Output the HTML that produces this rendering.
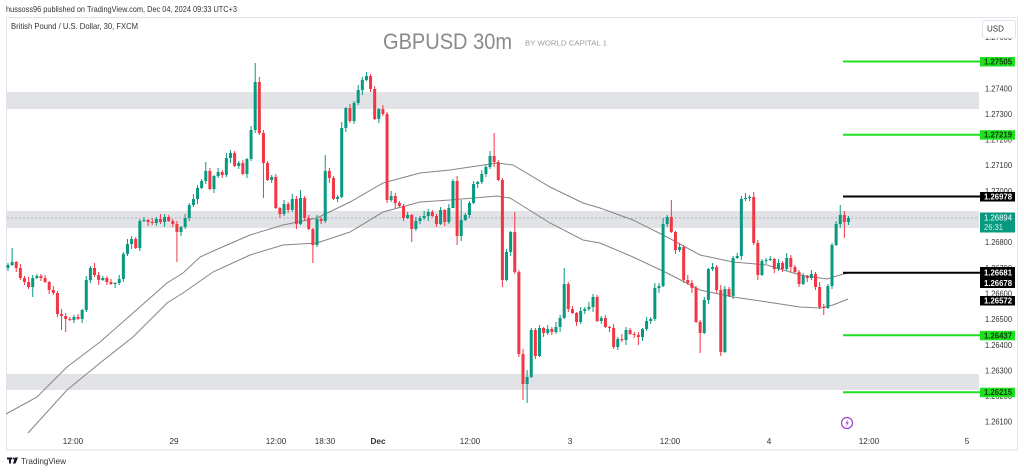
<!DOCTYPE html>
<html>
<head>
<meta charset="utf-8">
<style>
  html,body{margin:0;padding:0;background:#fff;}
  body{width:1024px;height:472px;overflow:hidden;position:relative;font-family:"Liberation Sans",sans-serif;}
  svg{position:absolute;left:0;top:0;}
  text{font-family:"Liberation Sans",sans-serif;}
</style>
</head>
<body>
<svg id="s" width="1024" height="472" viewBox="0 0 1024 472" xmlns="http://www.w3.org/2000/svg">
  <!-- header -->
  <text x="6" y="12" font-size="8.2" fill="#333" textLength="231" lengthAdjust="spacingAndGlyphs">hussoss96 published on TradingView.com, Dec 04, 2024 09:33 UTC+3</text>
  <!-- panel -->
  <rect x="6.5" y="17.5" width="1011" height="432.5" fill="#fff" stroke="#e0e3eb" stroke-width="1"/>
  <text x="11" y="29" font-size="8.2" fill="#333" textLength="127" lengthAdjust="spacingAndGlyphs">British Pound / U.S. Dollar, 30, FXCM</text>

  <!-- zones -->
  <rect x="7" y="92" width="972" height="17" fill="#e2e3e7"/>
  <rect x="7" y="211" width="972" height="17" fill="#e2e3e7"/>
  <rect x="7" y="374" width="972" height="16" fill="#e2e3e7"/>
  <line x1="7" y1="218" x2="979" y2="218" stroke="#a9b3b8" stroke-width="1" stroke-dasharray="2,2"/>

  <!-- title -->
  <text x="383" y="49" font-size="22" fill="#8a8a8a" textLength="129" lengthAdjust="spacingAndGlyphs">GBPUSD 30m</text>
  <text x="525" y="45.5" font-size="7" fill="#9a9a9a" textLength="82" lengthAdjust="spacingAndGlyphs">BY WORLD CAPITAL 1</text>

  <!-- moving averages -->
  <polyline fill="none" stroke="#858585" stroke-width="1" points="6,414 37,397 67,367 100,342 133,313 167,283 183,273 200,257 220,248 250,235 283,225 317,218 350,202 383,183 420,173 450,170 497,163 513,165 550,187 583,203 600,208 633,220 667,237 700,255 733,262 767,265 800,275 827,279 840,275 848,273"/>
  <polyline fill="none" stroke="#858585" stroke-width="1" points="28,433 67,390 100,363 133,337 167,303 183,293 213,272 250,255 283,245 317,243 350,232 383,212 420,202 450,200 497,196 510,198 550,223 583,240 600,243 633,257 667,273 700,290 733,297 767,302 800,307 820,308 833,305 848,299"/>

  <g id="candles"></g>

  <!-- horizontal levels -->
  <g stroke-width="2">
    <line x1="843" y1="61.5" x2="980" y2="61.5" stroke="#1fe01f"/>
    <line x1="843" y1="134.7" x2="980" y2="134.7" stroke="#1fe01f"/>
    <line x1="843" y1="196.5" x2="980" y2="196.5" stroke="#000"/>
    <line x1="843" y1="272.7" x2="980" y2="272.7" stroke="#000"/>
    <line x1="843" y1="335.3" x2="980" y2="335.3" stroke="#1fe01f"/>
    <line x1="843" y1="392.2" x2="980" y2="392.2" stroke="#1fe01f"/>
  </g>

  <!-- price axis ticks -->
  <g font-size="8.2" fill="#333">
    <text x="985" y="40" textLength="27" lengthAdjust="spacingAndGlyphs">1.27600</text>
    <text x="985" y="91.3" textLength="27" lengthAdjust="spacingAndGlyphs">1.27400</text>
    <text x="985" y="117" textLength="27" lengthAdjust="spacingAndGlyphs">1.27300</text>
    <text x="985" y="142.6" textLength="27" lengthAdjust="spacingAndGlyphs">1.27200</text>
    <text x="985" y="168.2" textLength="27" lengthAdjust="spacingAndGlyphs">1.27100</text>
    <text x="985" y="193.9" textLength="27" lengthAdjust="spacingAndGlyphs">1.27000</text>
    <text x="985" y="245.2" textLength="27" lengthAdjust="spacingAndGlyphs">1.26800</text>
    <text x="985" y="270.8" textLength="27" lengthAdjust="spacingAndGlyphs">1.26700</text>
    <text x="985" y="296.5" textLength="27" lengthAdjust="spacingAndGlyphs">1.26600</text>
    <text x="985" y="322.1" textLength="27" lengthAdjust="spacingAndGlyphs">1.26500</text>
    <text x="985" y="347.8" textLength="27" lengthAdjust="spacingAndGlyphs">1.26400</text>
    <text x="985" y="373.4" textLength="27" lengthAdjust="spacingAndGlyphs">1.26300</text>
    <text x="985" y="399.1" textLength="27" lengthAdjust="spacingAndGlyphs">1.26200</text>
    <text x="985" y="424.7" textLength="27" lengthAdjust="spacingAndGlyphs">1.26100</text>
  </g>

  <!-- USD button -->
  <rect x="982.5" y="20.5" width="33" height="17.5" rx="2" fill="#fff" stroke="#e0e3eb"/>
  <text x="987" y="31.5" font-size="8" fill="#333">USD</text>

  <!-- price labels -->
  <g font-size="8" font-weight="bold">
    <rect x="980" y="57" width="35" height="9.5" fill="#1fe01f"/>
    <text x="984" y="64.5" fill="#0b3d0b" textLength="28" lengthAdjust="spacingAndGlyphs">1.27505</text>
    <rect x="980" y="130.2" width="35" height="9.5" fill="#1fe01f"/>
    <text x="984" y="137.7" fill="#0b3d0b" textLength="28" lengthAdjust="spacingAndGlyphs">1.27219</text>
    <rect x="980" y="192" width="35" height="9.5" fill="#000"/>
    <text x="984" y="199.5" fill="#fff" textLength="28" lengthAdjust="spacingAndGlyphs">1.26978</text>
    <rect x="980" y="212.5" width="35" height="20" fill="#089981"/>
    <text x="984" y="220.5" fill="#fff" font-weight="normal" textLength="28" lengthAdjust="spacingAndGlyphs">1.26894</text>
    <text x="984" y="230" fill="#d8f0ea" font-weight="normal" textLength="19" lengthAdjust="spacingAndGlyphs">26:31</text>
    <rect x="980" y="267" width="35" height="21" fill="#000"/>
    <text x="984" y="275.5" fill="#fff" textLength="28" lengthAdjust="spacingAndGlyphs">1.26681</text>
    <text x="984" y="286" fill="#fff" textLength="28" lengthAdjust="spacingAndGlyphs">1.26678</text>
    <rect x="980" y="296" width="35" height="9.5" fill="#000"/>
    <text x="984" y="303.5" fill="#fff" textLength="28" lengthAdjust="spacingAndGlyphs">1.26572</text>
    <rect x="980" y="330.8" width="35" height="9.5" fill="#1fe01f"/>
    <text x="984" y="338.3" fill="#0b3d0b" textLength="28" lengthAdjust="spacingAndGlyphs">1.26437</text>
    <rect x="980" y="387.7" width="35" height="9.5" fill="#1fe01f"/>
    <text x="984" y="395.2" fill="#0b3d0b" textLength="28" lengthAdjust="spacingAndGlyphs">1.26215</text>
  </g>

  <!-- lightning icon -->
  <circle cx="847" cy="423" r="5.5" fill="#fff" stroke="#9c3fd0" stroke-width="1.2"/>
  <path d="M848.3,419.3 L845.3,423.5 L847.2,423.5 L845.9,426.8 L849,422.4 L847.1,422.4 Z" fill="#9c3fd0"/>

  <!-- time axis -->
  <g font-size="8.2" fill="#333" text-anchor="middle">
    <text x="73" y="444">12:00</text>
    <text x="174" y="444">29</text>
    <text x="276" y="444">12:00</text>
    <text x="325" y="444">18:30</text>
    <text x="378" y="444" font-weight="bold">Dec</text>
    <text x="470" y="444">12:00</text>
    <text x="570" y="444">3</text>
    <text x="670" y="444">12:00</text>
    <text x="769" y="444">4</text>
    <text x="869" y="444">12:00</text>
    <text x="967" y="444">5</text>
  </g>

  <!-- TradingView logo -->
  <g fill="#131722">
    <rect x="7" y="457.5" width="5" height="2"/>
    <rect x="9" y="457.5" width="2" height="6"/>
    <circle cx="13.5" cy="458.5" r="1"/>
    <path d="M15,457.5 L18,457.5 L15.5,463.5 L13,463.5 Z"/>
  </g>
  <text x="21" y="464" font-size="8.5" fill="#333" textLength="45" lengthAdjust="spacingAndGlyphs">TradingView</text>
</svg>

<script>
(function(){
  var C=[265,262,268,278,282,287,278,276,278,282,
  290,293,314,316,319,320,317,319,310,280,
  268,275,280,278,282,284,283,279,254,244,
  239,248,221,220,222,223,219,222,217,221,
  224,232,227,218,205,199,188,181,171,189,
  176,172,175,158,153,166,163,174,159,130,
  82,133,163,180,177,208,214,204,210,199,
  224,198,218,229,245,219,221,171,178,199,
  197,128,108,121,103,90,80,76,89,119,
  109,114,200,196,203,206,218,215,229,221,
  218,216,212,216,224,210,222,208,181,236,
  220,215,203,184,182,174,167,156,162,180,
  280,252,232,272,354,384,377,330,356,328,
  333,329,332,327,318,284,309,313,322,311,
  309,307,297,321,318,327,328,347,339,340,
  330,334,335,337,329,321,319,288,286,224,
  217,232,250,247,280,283,288,322,333,300,
  269,267,290,352,289,296,258,256,199,198,
  197,243,275,261,260,259,269,263,269,258,
  267,272,284,276,278,274,287,307,308,286,
  245,224,215,222,218];
  var H={1:248,48:162,60:63,71:190,77:155,87:72,110:200,118:133,123:212,126:370,135:268,161:200,179:193,202:205,178:196,81:122,159:218};
  var L={6:297,13:330,14:332,41:262,62:198,74:263,98:242,109:245,120:287,125:400,126:403,153:345,168:353,174:353,198:315,203:238,108:190,173:356};
  var w1=[2,3,1,4,2,5,3,2],w2=[3,1,4,2,3,2,5,1];
  var G='#089981',R='#f23645';
  var out='',prev=G;
  for(var i=0;i<C.length;i++){
    var o=i===0?268:C[i-1],c=C[i];
    var x=8+i*4.12;
    var top=Math.min(o,c),bot=Math.max(o,c);
    var h=(H[i]!==undefined)?H[i]:top-w1[i%8];
    var l=(L[i]!==undefined)?L[i]:bot+w2[i%8];
    var col=c<o?G:(c>o?R:prev);prev=col;
    var bh=Math.max(1,bot-top);
    out+='<line x1="'+x.toFixed(2)+'" y1="'+h+'" x2="'+x.toFixed(2)+'" y2="'+l+'" stroke="'+col+'" stroke-width="1"/>';
    out+='<rect x="'+(x-1.5).toFixed(2)+'" y="'+top+'" width="3" height="'+bh+'" fill="'+col+'"/>';
  }
  document.getElementById('candles').innerHTML=out;
})();
</script>
</body>
</html>
